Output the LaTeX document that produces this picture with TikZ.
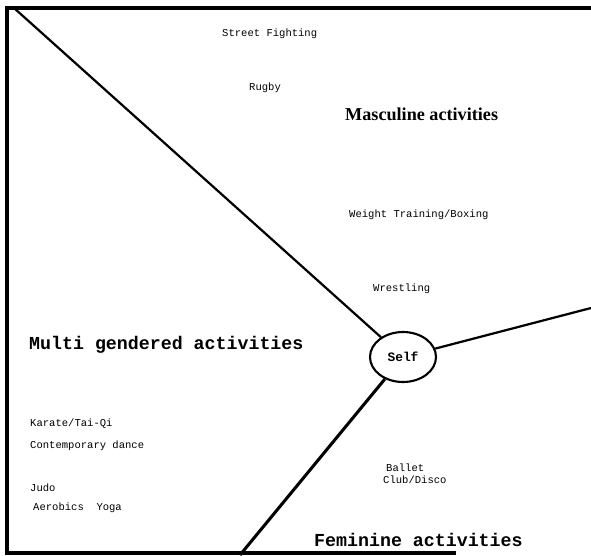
\documentclass[tikz,border=0pt]{standalone}
\usepackage{fontspec}
\setmainfont{Liberation Serif}
\setmonofont{Liberation Mono}
\usepackage{tikz}
\usetikzlibrary{positioning}
\usetikzlibrary{shapes.geometric}

\begin{document}
\begin{tikzpicture}
                [x=0.03cm, y=-0.03cm,
                 act/.style = {anchor=west, inner sep=0pt, font=\ttfamily\fontsize{9}{10}\selectfont},
                 zone/.style = {anchor=west, inner sep=0pt, font=\ttfamily\bfseries\fontsize{15.6}{17}\selectfont},
                 self/.style = {ellipse, draw, line width=1.8pt, minimum width=1.98cm, minimum height=1.5cm, inner sep=0pt, font=\ttfamily\bfseries\fontsize{11}{12}\selectfont}]
                \useasboundingbox (0,0) rectangle (591,555);
                % Frame corners
                \coordinate (tl) at (7,8);
                \coordinate (tr) at (591,8);
                \coordinate (bl) at (7,553);
                \coordinate (br) at (456,553);
                \coordinate (corner) at (14,8);
                \coordinate (east) at (591,308);
                \coordinate (south) at (240,555);
                % Frame
                \draw[line width=2.8pt] (tr) -- (tl) -- (bl) -- (br);
                % Self
                \node[self] (s) at (403,357) {Self};
                % Lines
                \path[-, line width=1.9pt] (corner) edge (s);
                \path[-, line width=1.9pt] (s) edge (east);
                \path[-, line width=2.6pt] (s) edge (south);
                % Zone titles
                \node[anchor=west, inner sep=0pt, font=\bfseries\fontsize{15.5}{17}\selectfont] (masc) at (345,114) {Masculine activities};
                \node[zone] (multi) at (29,345) {Multi gendered activities};
                \node[zone] (fem) at (314,540) {Feminine activities};
                % Masculine
                \node[act] (street) at (222,34) {Street Fighting};
                \node[act] (rugby) at (249,88) {Rugby};
                \node[act] (weight) at (349,215) {Weight Training/Boxing};
                \node[act] (wrestling) at (373,289) {Wrestling};
                % Multi gendered
                \node[act] (karate) at (30,424) {Karate/Tai-Qi};
                \node[act] (dance) at (30,446) {Contemporary dance};
                \node[act] (judo) at (30,488) {Judo};
                \node[act] (aerobics) at (33,508) {Aerobics\ \ Yoga};
                % Feminine
                \node[act] (ballet) at (386,468) {Ballet};
                \node[act] (club) at (383,480) {Club/Disco};
            \end{tikzpicture}
\end{document}
